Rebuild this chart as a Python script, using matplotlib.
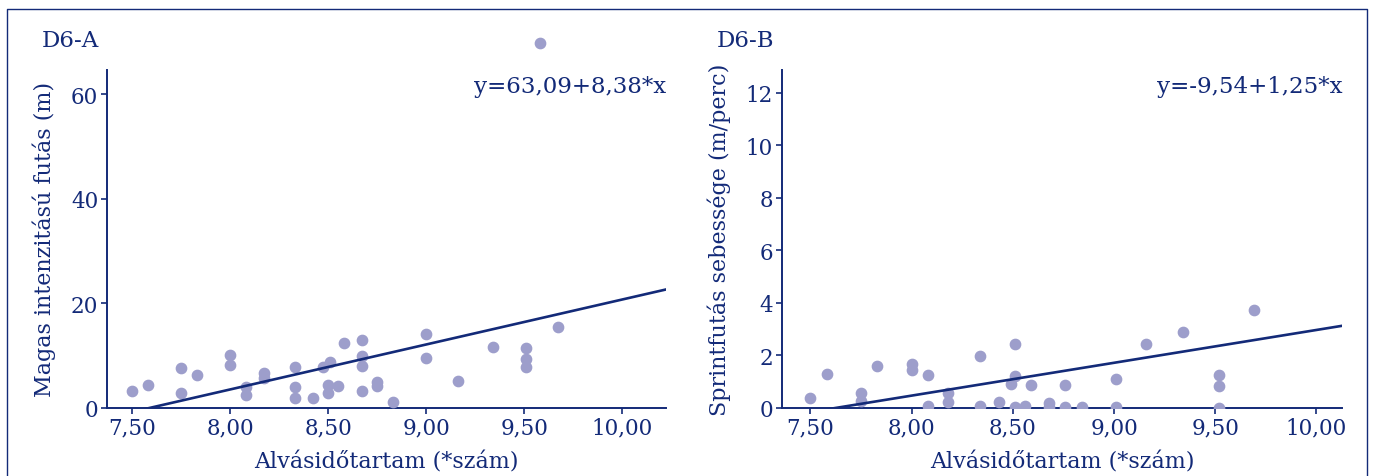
import numpy as np
import matplotlib.pyplot as plt
from matplotlib.lines import Line2D

# D6-A adatok
alvas_a = [7.50, 7.58, 7.75, 7.75, 7.83, 8.00, 8.00, 8.08, 8.08, 8.17, 8.17, 8.33,
           8.33, 8.33, 8.42, 8.47, 8.51, 8.50, 8.50, 8.55, 8.58, 8.67, 8.67, 8.67,
           8.67, 8.75, 8.75, 8.83, 9.00, 9.00, 9.16, 9.34, 9.51, 9.51, 9.51, 9.67, 9.58]
futas_a = [3.1, 4.4, 7.6, 2.9, 6.3, 10.1, 8.2, 3.9, 2.4, 6.7, 5.6, 7.8,
           3.9, 1.9, 1.9, 7.8, 8.7, 4.4, 2.9, 4.2, 12.3, 13.0, 9.9, 7.9,
           3.1, 5.0, 4.1, 1.1, 14.1, 9.6, 5.2, 11.7, 11.5, 9.3, 7.8, 15.5, 69.8]
fit_a = (-65.3, 8.6)
felirat_a = 'y=63,09+8,38*x'

# D6-B adatok
alvas_b = [7.50, 7.58, 7.75, 7.75, 7.83, 8.00, 8.00, 8.08, 8.08, 8.18, 8.18, 8.34,
           8.34, 8.43, 8.49, 8.51, 8.51, 8.51, 8.56, 8.59, 8.68, 8.68, 8.76, 8.76,
           8.84, 9.01, 9.01, 9.16, 9.34, 9.52, 9.52, 9.52, 9.69]
sprint_b = [0.36, 1.27, 0.57, 0.25, 1.59, 1.68, 1.45, 1.26, 0.05, 0.56, 0.23, 1.96,
            0.06, 0.20, 0.91, 2.44, 1.22, 0.01, 0.08, 0.85, 0.19, 0.04, 0.85, 0.01,
            0.01, 1.08, 0.01, 2.44, 2.87, 1.24, 0.84, 0.0, 3.71]
fit_b = (-9.54, 1.25)
felirat_b = 'y=-9,54+1,25*x'

x_ticks = [7.5, 8.0, 8.5, 9.0, 9.5, 10.0]
x_ticklabels = ['7,50', '8,00', '8,50', '9,00', '9,50', '10,00']

navy = '#132a78'
pont = '#9d9ecb'

plt.rcParams['font.family'] = ['DejaVu Serif']
fig = plt.figure(figsize=(13.73, 4.77), dpi=100)

def panel(rect, x, y, fit, felirat, cim, ylabel, xlim, ylim, yticks, clip):
    ax = fig.add_axes(rect)
    ax.scatter(x, y, s=55, color=pont, edgecolors=pont, zorder=3, clip_on=clip)
    xs = np.linspace(xlim[0], xlim[1], 50)
    ax.plot(xs, fit[0] + fit[1] * xs, color=navy, linewidth=1.9, zorder=4)
    ax.set_xlim(*xlim)
    ax.set_ylim(*ylim)
    ax.set_xticks(x_ticks)
    ax.set_xticklabels(x_ticklabels)
    ax.set_yticks(yticks)
    for s in ['top', 'right']:
        ax.spines[s].set_visible(False)
    for s in ['left', 'bottom']:
        ax.spines[s].set_color(navy)
        ax.spines[s].set_linewidth(1.4)
    ax.tick_params(colors=navy, labelsize=15.5, length=4, width=1.2, pad=2)
    ax.set_xlabel('Alvásidőtartam (*szám)', color=navy, fontsize=16, labelpad=9)
    ax.set_ylabel(ylabel, color=navy, fontsize=16, labelpad=11)
    ax.text(1.0, 0.985, felirat, transform=ax.transAxes, ha='right', va='top',
            color=navy, fontsize=16.5)
    ax.text(-0.115, 1.09, cim, transform=ax.transAxes, ha='left', va='center',
            color=navy, fontsize=16.5)
    return ax

panel([0.0776, 0.1432, 0.4078, 0.708], alvas_a, futas_a, fit_a, felirat_a, 'D6-A',
      'Magas intenzitású futás (m)', (7.368, 10.225), (0, 64.6), [0, 20, 40, 60], False)
panel([0.5692, 0.1432, 0.4085, 0.708], alvas_b, sprint_b, fit_b, felirat_b, 'D6-B',
      'Sprintfutás sebessége (m/perc)', (7.357, 10.128), (0, 12.86),
      [0, 2, 4, 6, 8, 10, 12], True)

# keret
w, h = 1373, 477
fig.add_artist(Line2D([7 / w, 7 / w, 1367 / w, 1367 / w], [0, 1 - 10 / h, 1 - 10 / h, 0],
                      color=navy, linewidth=1.0, transform=fig.transFigure))

fig.savefig('out.png', dpi=100)
